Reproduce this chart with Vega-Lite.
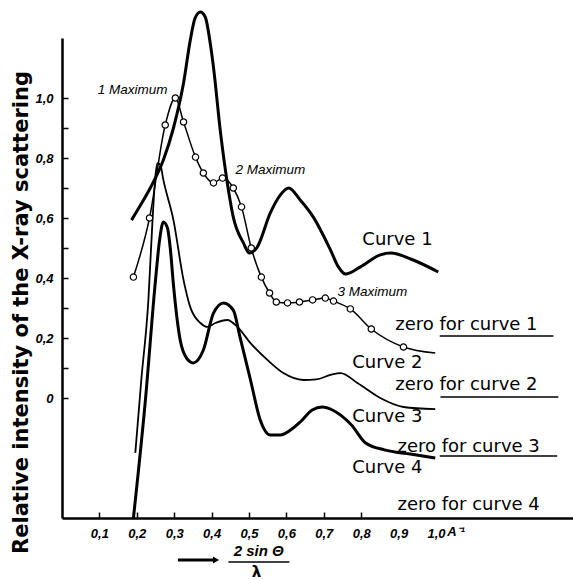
{
  "$schema": "https://vega.github.io/schema/vega-lite/v6.json",
  "width": 511,
  "height": 480,
  "autosize": {"type": "none"},
  "padding": {"left": 62, "top": 38, "right": 0, "bottom": 62},
  "background": "white",
  "config": {"view": {"stroke": null}, "font": "DejaVu Sans"},
  "datasets": {
    "curves": [
      {"series": "A", "x": 0.186, "y": 0.593},
      {"series": "A", "x": 0.210, "y": 0.643},
      {"series": "A", "x": 0.236, "y": 0.700},
      {"series": "A", "x": 0.271, "y": 0.793},
      {"series": "A", "x": 0.298, "y": 0.900},
      {"series": "A", "x": 0.325, "y": 1.050},
      {"series": "A", "x": 0.343, "y": 1.193},
      {"series": "A", "x": 0.356, "y": 1.267},
      {"series": "A", "x": 0.370, "y": 1.287},
      {"series": "A", "x": 0.383, "y": 1.270},
      {"series": "A", "x": 0.397, "y": 1.177},
      {"series": "A", "x": 0.405, "y": 1.103},
      {"series": "A", "x": 0.424, "y": 0.883},
      {"series": "A", "x": 0.442, "y": 0.717},
      {"series": "A", "x": 0.458, "y": 0.603},
      {"series": "A", "x": 0.485, "y": 0.517},
      {"series": "A", "x": 0.501, "y": 0.483},
      {"series": "A", "x": 0.522, "y": 0.503},
      {"series": "A", "x": 0.557, "y": 0.617},
      {"series": "A", "x": 0.584, "y": 0.677},
      {"series": "A", "x": 0.606, "y": 0.700},
      {"series": "A", "x": 0.637, "y": 0.660},
      {"series": "A", "x": 0.672, "y": 0.603},
      {"series": "A", "x": 0.718, "y": 0.493},
      {"series": "A", "x": 0.739, "y": 0.437},
      {"series": "A", "x": 0.758, "y": 0.413},
      {"series": "A", "x": 0.798, "y": 0.437},
      {"series": "A", "x": 0.851, "y": 0.477},
      {"series": "A", "x": 0.878, "y": 0.483},
      {"series": "A", "x": 0.939, "y": 0.460},
      {"series": "A", "x": 1.006, "y": 0.420},

      {"series": "B", "x": 0.191, "y": 0.403},
      {"series": "B", "x": 0.234, "y": 0.600},
      {"series": "B", "x": 0.276, "y": 0.910},
      {"series": "B", "x": 0.303, "y": 1.000},
      {"series": "B", "x": 0.325, "y": 0.920},
      {"series": "B", "x": 0.357, "y": 0.803},
      {"series": "B", "x": 0.378, "y": 0.750},
      {"series": "B", "x": 0.405, "y": 0.717},
      {"series": "B", "x": 0.429, "y": 0.733},
      {"series": "B", "x": 0.458, "y": 0.700},
      {"series": "B", "x": 0.480, "y": 0.637},
      {"series": "B", "x": 0.506, "y": 0.500},
      {"series": "B", "x": 0.533, "y": 0.403},
      {"series": "B", "x": 0.555, "y": 0.350},
      {"series": "B", "x": 0.573, "y": 0.320},
      {"series": "B", "x": 0.603, "y": 0.317},
      {"series": "B", "x": 0.635, "y": 0.320},
      {"series": "B", "x": 0.670, "y": 0.327},
      {"series": "B", "x": 0.704, "y": 0.333},
      {"series": "B", "x": 0.726, "y": 0.323},
      {"series": "B", "x": 0.771, "y": 0.297},
      {"series": "B", "x": 0.827, "y": 0.230},
      {"series": "B", "x": 0.913, "y": 0.170},
      {"series": "B", "x": 0.998, "y": 0.150},

      {"series": "C", "x": 0.196, "y": -0.183},
      {"series": "C", "x": 0.212, "y": 0.060},
      {"series": "C", "x": 0.231, "y": 0.327},
      {"series": "C", "x": 0.242, "y": 0.593},
      {"series": "C", "x": 0.250, "y": 0.743},
      {"series": "C", "x": 0.255, "y": 0.783},
      {"series": "C", "x": 0.263, "y": 0.777},
      {"series": "C", "x": 0.271, "y": 0.727},
      {"series": "C", "x": 0.298, "y": 0.593},
      {"series": "C", "x": 0.325, "y": 0.393},
      {"series": "C", "x": 0.343, "y": 0.303},
      {"series": "C", "x": 0.370, "y": 0.250},
      {"series": "C", "x": 0.389, "y": 0.237},
      {"series": "C", "x": 0.410, "y": 0.250},
      {"series": "C", "x": 0.442, "y": 0.260},
      {"series": "C", "x": 0.469, "y": 0.237},
      {"series": "C", "x": 0.504, "y": 0.183},
      {"series": "C", "x": 0.549, "y": 0.127},
      {"series": "C", "x": 0.592, "y": 0.083},
      {"series": "C", "x": 0.645, "y": 0.060},
      {"series": "C", "x": 0.680, "y": 0.062},
      {"series": "C", "x": 0.718, "y": 0.077},
      {"series": "C", "x": 0.745, "y": 0.083},
      {"series": "C", "x": 0.790, "y": 0.050},
      {"series": "C", "x": 0.851, "y": 0.000},
      {"series": "C", "x": 0.913, "y": -0.030},
      {"series": "C", "x": 0.998, "y": -0.037},

      {"series": "D", "x": 0.191, "y": -0.400},
      {"series": "D", "x": 0.223, "y": -0.007},
      {"series": "D", "x": 0.250, "y": 0.393},
      {"series": "D", "x": 0.261, "y": 0.527},
      {"series": "D", "x": 0.271, "y": 0.587},
      {"series": "D", "x": 0.282, "y": 0.567},
      {"series": "D", "x": 0.290, "y": 0.493},
      {"series": "D", "x": 0.298, "y": 0.377},
      {"series": "D", "x": 0.316, "y": 0.193},
      {"series": "D", "x": 0.333, "y": 0.133},
      {"series": "D", "x": 0.351, "y": 0.117},
      {"series": "D", "x": 0.378, "y": 0.160},
      {"series": "D", "x": 0.405, "y": 0.283},
      {"series": "D", "x": 0.432, "y": 0.317},
      {"series": "D", "x": 0.458, "y": 0.293},
      {"series": "D", "x": 0.476, "y": 0.203},
      {"series": "D", "x": 0.504, "y": 0.060},
      {"series": "D", "x": 0.530, "y": -0.073},
      {"series": "D", "x": 0.557, "y": -0.123},
      {"series": "D", "x": 0.584, "y": -0.123},
      {"series": "D", "x": 0.611, "y": -0.107},
      {"series": "D", "x": 0.637, "y": -0.080},
      {"series": "D", "x": 0.669, "y": -0.040},
      {"series": "D", "x": 0.696, "y": -0.030},
      {"series": "D", "x": 0.723, "y": -0.040},
      {"series": "D", "x": 0.745, "y": -0.057},
      {"series": "D", "x": 0.774, "y": -0.090},
      {"series": "D", "x": 0.812, "y": -0.150},
      {"series": "D", "x": 0.862, "y": -0.173},
      {"series": "D", "x": 0.931, "y": -0.187},
      {"series": "D", "x": 0.998, "y": -0.200}
    ],
    "labels": [
      {"kind": "max", "text": "1 Maximum", "x": 0.189, "y": 1.027},
      {"kind": "max", "text": "2 Maximum", "x": 0.557, "y": 0.760},
      {"kind": "max", "text": "3 Maximum", "x": 0.830, "y": 0.353},
      {"kind": "big", "text": "Curve 1", "x": 0.803, "y": 0.527},
      {"kind": "big", "text": "Curve 2", "x": 0.776, "y": 0.117},
      {"kind": "big", "text": "Curve 3", "x": 0.776, "y": -0.063},
      {"kind": "big", "text": "Curve 4", "x": 0.776, "y": -0.233},
      {"kind": "big", "text": "zero for curve 1", "x": 0.891, "y": 0.243},
      {"kind": "big", "text": "zero for curve 2", "x": 0.891, "y": 0.043},
      {"kind": "big", "text": "zero for curve 3", "x": 0.897, "y": -0.163},
      {"kind": "big", "text": "zero for curve 4", "x": 0.897, "y": -0.357}
    ],
    "underlines": [
      {"x": 1.010, "x2": 1.314, "y": 0.207},
      {"x": 1.012, "x2": 1.327, "y": 0.003},
      {"x": 1.010, "x2": 1.324, "y": -0.193}
    ]
  },
  "layer": [
    {
      "data": {"name": "curves"},
      "mark": {"type": "line", "interpolate": "monotone", "color": "black"},
      "encoding": {
        "x": {
          "field": "x", "type": "quantitative",
          "scale": {"domain": [0, 1.3663], "nice": false, "zero": false},
          "axis": {
            "orient": "bottom",
            "values": [0.1, 0.2, 0.3, 0.4, 0.5, 0.6, 0.7, 0.8, 0.9, 1.0],
            "grid": false, "title": null,
            "domainColor": "black", "domainWidth": 2.5,
            "tickColor": "black", "tickWidth": 1.5, "tickSize": -6,
            "tickOpacity": {"condition": {"test": "datum.value > 0.85", "value": 0}, "value": 1},
            "labelPadding": 15, "labelDx": -5,
            "labelExpr": "replace(format(datum.value, '.1f'), '.', ',')",
            "labelFont": "Liberation Sans", "labelFontStyle": "italic", "labelFontWeight": "bold",
            "labelFontSize": 13, "labelColor": "black", "labelFlush": false, "labelOverlap": false
          }
        },
        "y": {
          "field": "y", "type": "quantitative",
          "scale": {"domain": [-0.4, 1.2], "nice": false, "zero": false},
          "axis": {
            "orient": "left",
            "values": [0, 0.1, 0.2, 0.3, 0.4, 0.5, 0.6, 0.7, 0.8, 0.9, 1.0],
            "grid": false,
            "title": "Relative intensity of the X-ray scattering",
            "titleFont": "DejaVu Sans", "titleFontWeight": "bold", "titleFontSize": 21,
            "titleColor": "black", "titleAngle": -90, "titleX": -41, "titleY": 274,
            "titleAlign": "center", "titleBaseline": "middle",
            "domainColor": "black", "domainWidth": 2.5,
            "tickColor": "black", "tickWidth": 1.5, "tickSize": -6,
            "labelPadding": 15,
            "labelExpr": "datum.value == 0 ? '0' : (round(datum.value * 10) % 2 == 0 ? replace(format(datum.value, '.1f'), '.', ',') : '')",
            "labelFont": "Liberation Sans", "labelFontStyle": "italic", "labelFontWeight": "bold",
            "labelFontSize": 13, "labelColor": "black", "labelFlush": false, "labelOverlap": false
          }
        },
        "detail": {"field": "series", "type": "nominal"},
        "strokeWidth": {
          "field": "series", "type": "nominal",
          "scale": {"type": "ordinal", "domain": ["A", "B", "C", "D"], "range": [3, 1.5, 1.8, 3]},
          "legend": null
        }
      }
    },
    {
      "data": {"name": "curves"},
      "transform": [{"filter": "datum.series == 'B' && datum.x < 0.95"}],
      "mark": {"type": "point", "shape": "circle", "filled": true, "fill": "white", "stroke": "black", "strokeWidth": 1.2, "size": 40, "opacity": 1, "fillOpacity": 1, "strokeOpacity": 1},
      "encoding": {
        "x": {"field": "x", "type": "quantitative"},
        "y": {"field": "y", "type": "quantitative"}
      }
    },
    {
      "data": {"name": "labels"},
      "transform": [{"filter": "datum.kind == 'max'"}],
      "mark": {"type": "text", "font": "Liberation Sans", "fontStyle": "italic", "fontSize": 13.5, "align": "center", "baseline": "middle", "color": "black"},
      "encoding": {
        "x": {"field": "x", "type": "quantitative"},
        "y": {"field": "y", "type": "quantitative"},
        "text": {"field": "text"}
      }
    },
    {
      "data": {"name": "labels"},
      "transform": [{"filter": "datum.kind == 'big'"}],
      "mark": {"type": "text", "font": "DejaVu Sans", "fontSize": 18, "align": "left", "baseline": "middle", "color": "black"},
      "encoding": {
        "x": {"field": "x", "type": "quantitative"},
        "y": {"field": "y", "type": "quantitative"},
        "text": {"field": "text"}
      }
    },
    {
      "data": {"name": "underlines"},
      "mark": {"type": "rule", "color": "black", "strokeWidth": 1.5},
      "encoding": {
        "x": {"field": "x", "type": "quantitative"},
        "x2": {"field": "x2"},
        "y": {"field": "y", "type": "quantitative"}
      }
    },
    {
      "data": {"values": [{"text": "A⁻¹", "x": 1.03, "y": -0.445}]},
      "mark": {"type": "text", "font": "Liberation Sans", "fontStyle": "italic", "fontWeight": "bold", "fontSize": 13, "align": "left", "baseline": "middle", "color": "black"},
      "encoding": {
        "x": {"field": "x", "type": "quantitative"},
        "y": {"field": "y", "type": "quantitative"},
        "text": {"field": "text"}
      }
    },
    {
      "data": {"values": [{"text": "2 sin Θ", "x": 0.526, "y": -0.537}]},
      "mark": {"type": "text", "font": "Liberation Sans", "fontStyle": "italic", "fontWeight": "bold", "fontSize": 15, "align": "center", "baseline": "bottom", "color": "black"},
      "encoding": {
        "x": {"field": "x", "type": "quantitative"},
        "y": {"field": "y", "type": "quantitative"},
        "text": {"field": "text"}
      }
    },
    {
      "data": {"values": [{"text": "λ", "x": 0.52, "y": -0.555}]},
      "mark": {"type": "text", "font": "DejaVu Sans", "fontWeight": "bold", "fontSize": 15, "align": "center", "baseline": "top", "color": "black"},
      "encoding": {
        "x": {"field": "x", "type": "quantitative"},
        "y": {"field": "y", "type": "quantitative"},
        "text": {"field": "text"}
      }
    },
    {
      "data": {"values": [{"x": 0.445, "x2": 0.608, "y": -0.547}]},
      "mark": {"type": "rule", "color": "black", "strokeWidth": 1.5},
      "encoding": {
        "x": {"field": "x", "type": "quantitative"},
        "x2": {"field": "x2"},
        "y": {"field": "y", "type": "quantitative"}
      }
    },
    {
      "data": {"values": [{"x": 0.31, "x2": 0.41, "y": -0.54}]},
      "mark": {"type": "rule", "color": "black", "strokeWidth": 3},
      "encoding": {
        "x": {"field": "x", "type": "quantitative"},
        "x2": {"field": "x2"},
        "y": {"field": "y", "type": "quantitative"}
      }
    },
    {
      "data": {"values": [{"x": 0.412, "y": -0.54}]},
      "mark": {"type": "point", "shape": "triangle-right", "filled": true, "color": "black", "size": 50, "opacity": 1},
      "encoding": {
        "x": {"field": "x", "type": "quantitative"},
        "y": {"field": "y", "type": "quantitative"}
      }
    }
  ]
}
